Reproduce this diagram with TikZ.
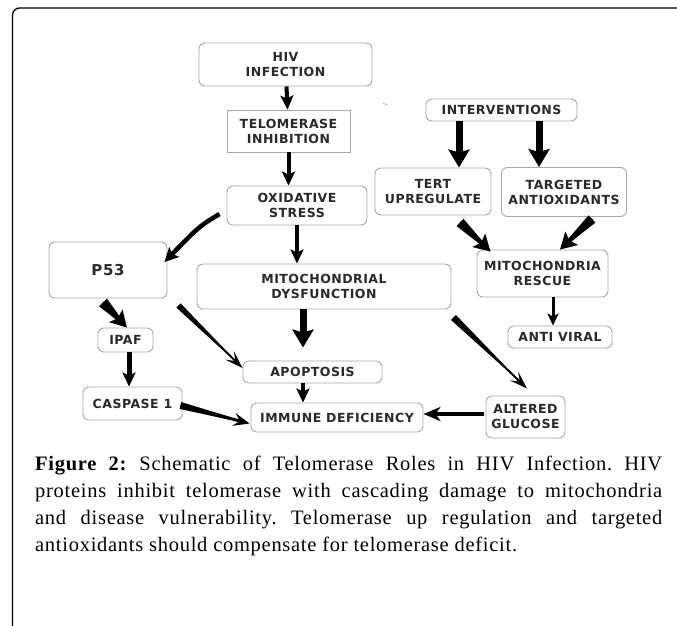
\documentclass[tikz,border=0pt]{standalone}
\usepackage{fontspec}
\setmainfont[LetterSpace=3.5]{Liberation Serif}
\newfontfamily\boxfont[LetterSpace=4]{DejaVu Sans}
\usetikzlibrary{arrows.meta,calc}
\definecolor{boxline}{HTML}{A8A8A8}
\definecolor{boxtext}{HTML}{2A2A2A}
\newcommand\taperfill[4]{\fill ($(#1)!#3!90:(#2)$) -- ($(#1)!#3!-90:(#2)$) -- ($(#1)!0.7!(#2)!#4!90:(#1)$) -- ($(#1)!0.7!(#2)!#4!-90:(#1)$) -- cycle;}
\frenchspacing
\begin{document}
\begin{tikzpicture}[x=1pt,y=-1pt,
  box/.style={draw=boxline, line width=0.9pt, rounded corners=6pt, fill=white, align=center,
    text=boxtext, font=\boxfont\bfseries\fontsize{12.5}{15}\selectfont, inner sep=0pt},
  arr/.style={line width=4pt, -{Stealth[length=14pt,width=13pt,inset=3pt]}},
  bigarr/.style={line width=7pt, -{Stealth[length=18pt,width=21pt,inset=3pt]}},
  smallarr/.style={line width=3pt, -{Stealth[length=12pt,width=11pt,inset=3pt]}},
  widehead/.style={line width=4pt, -{Stealth[length=16pt,width=18pt,inset=3pt]}},
  barbhead/.style={line width=2pt, -{Stealth[length=18pt,width=12pt,inset=8pt]}},
  midhead/.style={line width=3pt, -{Stealth[length=16pt,width=13pt,inset=6pt]}},
]
\useasboundingbox (0,0) rectangle (677,625);
\clip (0,0) rectangle (677,625);
% frame
\draw[line width=1.3pt, rounded corners=7pt] (12.5,640) -- (12.5,8) -- (700,8);
% stray mark
\draw[boxline, line width=0.8pt] (383,103.5) -- (387,104.5);

% nodes
\node[box, minimum width=173pt, minimum height=43pt] (hiv) at (285.5,64.5) {HIV\\INFECTION};
\node[box, sharp corners, minimum width=123pt, minimum height=42pt] (telo) at (288.5,131) {TELOMERASE\\INHIBITION};
\node[box, minimum width=140pt, minimum height=39pt] (oxi) at (297,205.5) {OXIDATIVE\\STRESS};
\node[box, minimum width=151pt, minimum height=22pt] (inter) at (501.5,110) {INTERVENTIONS};
\node[box, minimum width=116pt, minimum height=47pt] (tert) at (433,191.5) {TERT\\UPREGULATE};
\node[box, minimum width=125pt, minimum height=49pt] (targ) at (564,192) {TARGETED\\ANTIOXIDANTS};
\node[box, minimum width=131pt, minimum height=47pt] (resc) at (542.5,273.5) {MITOCHONDRIA\\RESCUE};
\node[box, minimum width=104pt, minimum height=22pt] (anti) at (560,337) {ANTI VIRAL};
\node[box, minimum width=118pt, minimum height=56pt, font=\boxfont\bfseries\fontsize{15}{16}\selectfont] (p53) at (108,270) {P53};
\node[box, minimum width=254pt, minimum height=45pt] (mdys) at (324,286.5) {MITOCHONDRIAL\\DYSFUNCTION};
\node[box, minimum width=139pt, minimum height=22pt] (apop) at (312.5,372) {APOPTOSIS};
\node[box, minimum width=172pt, minimum height=29pt] (imm) at (337,417.5) {IMMUNE DEFICIENCY};
\node[box, minimum width=55pt, minimum height=24pt] (ipaf) at (125.5,340) {IPAF};
\node[box, minimum width=99pt, minimum height=33pt] (casp) at (132.5,403.5) {CASPASE 1};
\node[box, minimum width=79pt, minimum height=42pt] (alt) at (525.5,417) {ALTERED\\GLUCOSE};

% arrow end points
\coordinate (s2) at (telo.south);
\coordinate (s3) at (oxi.south);
\coordinate (s4) at ($(mdys.south)+(-21,0)$);
\coordinate (t4) at ($(s4 |- apop.north)+(0,-13)$);
\coordinate (s5) at ($(apop.south)+(-9.5,0)$);
\coordinate (s6) at ($(casp.east)+(-2,2)$);
\coordinate (t6) at ($(imm.west)+(-1,6)$);
\coordinate (s7) at ($(alt.west)+(-2,-3)$);
\coordinate (s8) at ($(mdys.south east)+(2,8)$);
\coordinate (t8) at ($(alt.north)+(1.5,-7)$);
\coordinate (s9) at ($(p53.south east)+(11,7)$);
\coordinate (t9) at ($(apop.west)+(0,-4)$);
\coordinate (s10) at ($(p53.south)+(-5,4)$);
\coordinate (t10) at ($(ipaf.north)+(1.5,0)$);
\coordinate (s11) at ($(ipaf.south)+(3.5,0)$);
\coordinate (s12) at ($(oxi.west)+(-7,8.5)$);
\coordinate (t12) at ($(p53.east)+(-3,-8)$);
\coordinate (c12) at ($(s12)+(-20,12)$);
\coordinate (s13) at ($(inter.south)+(-42.5,0)$);
\coordinate (s14) at ($(inter.south)+(37.5,0)$);
\coordinate (s15) at ($(tert.south)+(27,7)$);
\coordinate (t15) at ($(resc.north west)+(14,2)$);
\coordinate (s16) at ($(targ.south)+(28,2)$);
\coordinate (t16) at ($(resc.north)+(17.5,0)$);
\coordinate (s17) at ($(resc.south)+(10.5,0)$);

% straight arrows
\draw[arr] (hiv) -- (telo);
\draw[arr] (s2) -- (s2 |- oxi.north);
\draw[arr] (s3) -- (s3 |- mdys.north);
\draw[bigarr] (s4) -- (t4);
\draw[arr] (s5) -- (s5 |- imm.north);
\draw[arr, line width=5pt] (s11) -- (s11 |- casp.north);
\draw[bigarr] (s13) -- (s13 |- tert.north);
\draw[bigarr] (s14) -- (s14 |- targ.north);
\draw[smallarr] (s17) -- (s17 |- anti.north);
\draw[line width=4pt, -{Stealth[length=17pt,width=14pt,inset=5pt]}] (s7) -- (s7 -| imm.east);

% tapered arrows
\taperfill{s10}{t10}{5.5pt}{2pt}
\draw[widehead] (s10) -- (t10);
\taperfill{s15}{t15}{5pt}{2pt}
\draw[widehead] (s15) -- (t15);
\taperfill{s16}{t16}{5pt}{2pt}
\draw[widehead] (s16) -- (t16);
\taperfill{s9}{t9}{3pt}{1pt}
\draw[barbhead] (s9) -- (t9);
\taperfill{s8}{t8}{3.5pt}{1pt}
\draw[barbhead] (s8) -- (t8);
\taperfill{s6}{t6}{3.5pt}{1.5pt}
\draw[midhead] (s6) -- (t6);
% curved arrow
\draw[line width=4.5pt, -{Stealth[length=14pt,width=14pt,inset=3pt]}] (s12) .. controls (c12) .. (t12);

% caption
\node[anchor=base west, text width=627pt, align=justify, inner sep=0pt,
  font=\fontsize{20.5}{27.3}\selectfont] (cap) at (35,470)
  {\textbf{Figure 2:} Schematic of Telomerase Roles in HIV Infection. HIV\linebreak
   proteins inhibit telomerase with cascading damage to mitochondria\linebreak
   and disease vulnerability. Telomerase up regulation and targeted\linebreak
   antioxidants should compensate for telomerase deficit.};
\end{tikzpicture}
\end{document}
